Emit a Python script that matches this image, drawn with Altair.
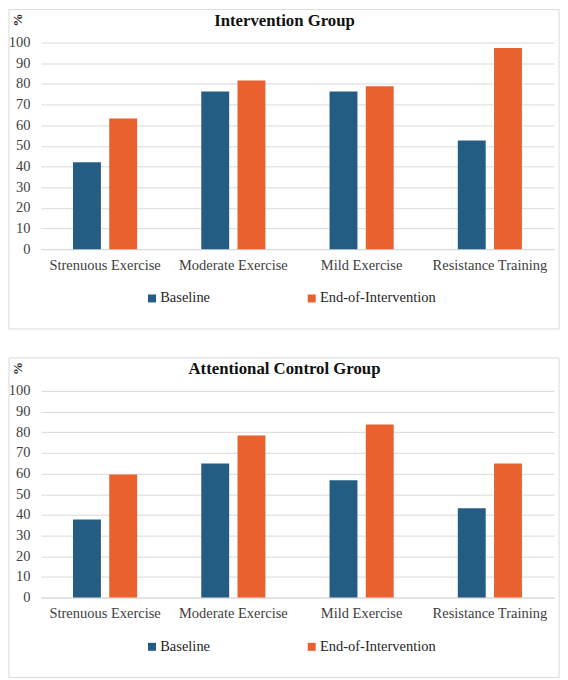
import altair as alt
import pandas as pd

categories = ["Strenuous Exercise", "Moderate Exercise", "Mild Exercise", "Resistance Training"]
series = ["Baseline", "End-of-Intervention"]
intervention_baseline = [42.1, 76.3, 76.3, 52.6]
intervention_end = [63.2, 81.6, 78.9, 97.4]
control_baseline = [37.8, 64.9, 56.8, 43.2]
control_end = [59.5, 78.4, 83.8, 64.9]
titles = ["Intervention Group", "Attentional Control Group"]
y_ticks = list(range(0, 101, 10))

BLUE = "#245c84"
ORANGE = "#e8612f"
FONT = "Liberation Serif"
W, H = 514, 207


def make_df(base, end):
    rows = []
    for c, b, e in zip(categories, base, end):
        rows.append({"category": c, "series": series[0], "value": b})
        rows.append({"category": c, "series": series[1], "value": e})
    return pd.DataFrame(rows)


def panel(df, title):
    bars = alt.Chart(df).mark_bar().encode(
        x=alt.X("category:N", sort=categories,
                scale=alt.Scale(paddingInner=0.5, paddingOuter=0.25),
                axis=alt.Axis(title=None, labelAngle=0, labelFontSize=14.5, labelFont=FONT,
                              labelColor="#404040", labelPadding=9, ticks=False,
                              domainColor="#d9d9d9", grid=False)),
        xOffset=alt.XOffset("series:N", sort=series,
                            scale=alt.Scale(paddingInner=0.23, paddingOuter=0)),
        y=alt.Y("value:Q", scale=alt.Scale(domain=[0, 100], nice=False),
                axis=alt.Axis(values=y_ticks, title="%", titleFont=FONT, titleFontSize=13,
                              titleFontWeight="bold", titleColor="#262626",
                              titleX=-23, titleY=-23, titleAlign="center",
                              titleBaseline="middle", titleAngle=270,
                              labelFontSize=14.5, labelFont=FONT, labelColor="#404040",
                              labelPadding=11, ticks=False, domain=False,
                              gridColor="#d9d9d9")),
        color=alt.Color("series:N", sort=series,
                        scale=alt.Scale(domain=series, range=[BLUE, ORANGE]),
                        legend=alt.Legend(title=None, orient="none", direction="horizontal",
                                          legendX=104, legendY=249, symbolType="square",
                                          symbolSize=64, symbolStrokeWidth=0,
                                          labelFont=FONT, labelFontSize=14.5,
                                          labelColor="#262626", columnPadding=94,
                                          padding=0, labelOffset=1)),
    )
    one = alt.Data(values=[{"k": 1}])
    border = alt.Chart(one).mark_rect(fillOpacity=0, stroke="#d9d9d9", strokeWidth=1).encode(
        x=alt.value(-32), x2=alt.value(519), y=alt.value(-33), y2=alt.value(287))
    ttl = alt.Chart(one).mark_text(font=FONT, fontSize=16.8, fontWeight="bold",
                                   color="#111111", align="center", baseline="middle").encode(
        x=alt.value(244), y=alt.value(-22), text=alt.value(title))
    return alt.layer(border, bars, ttl).properties(width=W, height=H).resolve_scale(color="independent")


top = panel(make_df(intervention_baseline, intervention_end), titles[0])
bottom = panel(make_df(control_baseline, control_end), titles[1])

chart = alt.vconcat(top, bottom, spacing=27).resolve_legend(color="independent").configure_view(
    stroke=None).properties(padding=0)

chart.save("out.html", embed_options={"renderer": "svg", "actions": False})
